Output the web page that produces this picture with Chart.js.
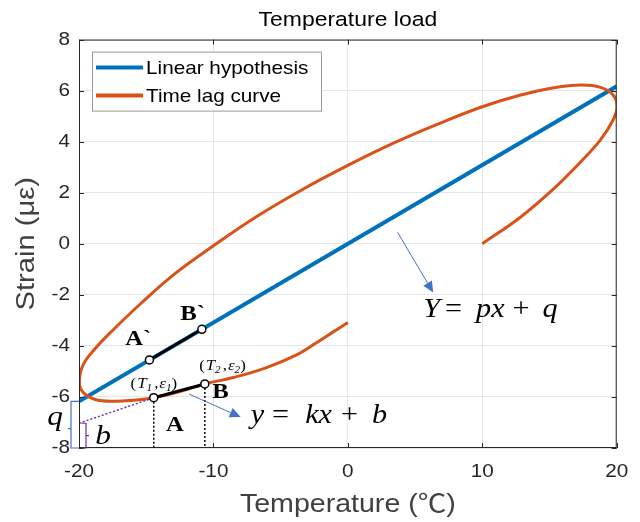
<!DOCTYPE html>
<html><head><meta charset="utf-8">
<script src="https://cdn.jsdelivr.net/npm/chart.js@4.4.1/dist/chart.umd.min.js"></script>
<style>html,body{margin:0;padding:0;background:#fff}#wrap{width:640px;height:522px}</style>
</head><body><div id="wrap"><canvas id="c" width="640" height="522"></canvas></div>
<script>
// ---- data ----
const xTicks = [-20, -10, 0, 10, 20];
const yTicks = [-8, -6, -4, -2, 0, 2, 4, 6, 8];
const linearX = [-20, 20];
const linearY = [-6.17, 6.17];
const lagX = [0, -1.2, -2.4, -3.7, -6.1, -8.6, -10.64, -12.5, -14.44, -16, -17.32, -18.79, -19.7, -19.97, -19.7, -18.79, -17.32, -15.32, -12.86, -10, -6.84, -3.47, 0, 3.47, 6.84, 10, 12.86, 15.32, 17.32, 18.79, 19.7, 20.03, 19.72, 18.79, 17.32, 15.32, 12.86, 10];
const lagY = [-3.08, -3.49, -3.9, -4.32, -4.86, -5.25, -5.49, -5.79, -6.03, -6.13, -6.17, -6.1, -5.82, -5.4, -4.75, -4.1, -3.3, -2.3, -1.17, -0.08, 1.05, 2.1, 3.07, 3.96, 4.72, 5.37, 5.83, 6.11, 6.22, 6.13, 5.85, 5.38, 4.84, 4.07, 3.21, 2.16, 1.05, 0];
const segLinX = [-14.76, -10.86];   // A` -> B` on the linear hypothesis
const segLinY = [-4.55, -3.35];
const segLagX = [-14.44, -10.64];   // A (T1,e1) -> B (T2,e2) on the time lag curve
const segLagY = [-6.03, -5.49];
const interceptB = -7.03;           // b : intercept of y = kx + b at x = -20
const interceptQ = -6.17;           // q : intercept of Y = px + q at x = -20

const pts = (xs, ys) => xs.map((x, i) => ({x, y: ys[i]}));
const FONT = '"Liberation Sans", Arial, "Noto Sans CJK SC", sans-serif';
const SERIF = '"Liberation Serif", "DejaVu Serif", serif';
const SX = 1.12; // horizontal text stretch seen in the reference

// text is drawn slightly wider, as in the reference picture
const stretchText = {
  id: 'stretchText',
  beforeInit(chart) {
    const ctx = chart.ctx;
    const orig = ctx.fillText.bind(ctx);
    ctx.fillText = function (text, x, y, maxWidth) {
      ctx.save(); ctx.translate(x, y); ctx.scale(SX, 1);
      if (maxWidth === undefined) orig(text, 0, 0); else orig(text, 0, 0, maxWidth / SX);
      ctx.restore();
    };
  }
};

function drawArrow(ctx, x1, y1, x2, y2, col) {
  const a = Math.atan2(y2 - y1, x2 - x1), L = 11, W = 5;
  const bx = x2 - L * Math.cos(a), by = y2 - L * Math.sin(a);
  ctx.strokeStyle = col; ctx.lineWidth = 1;
  ctx.beginPath(); ctx.moveTo(x1, y1); ctx.lineTo(bx, by); ctx.stroke();
  ctx.fillStyle = col; ctx.beginPath();
  ctx.moveTo(x2, y2);
  ctx.lineTo(bx + W * Math.sin(a), by - W * Math.cos(a));
  ctx.lineTo(bx - W * Math.sin(a), by + W * Math.cos(a));
  ctx.closePath(); ctx.fill();
}
function drawRuns(ctx, x, y, runs) {
  ctx.textAlign = 'left'; ctx.textBaseline = 'alphabetic';
  for (const r of runs) {
    ctx.font = r.f;
    ctx.fillText(r.t, x, y + (r.dy || 0));
    x += ctx.measureText(r.t).width * SX + (r.gap || 0);
  }
}
const annot = {
  id: 'annot',
  afterDatasetsDraw(chart) {
    const {ctx, chartArea: ca, scales: {x: sx, y: sy}} = chart;
    const X = v => sx.getPixelForValue(v), Y = v => sy.getPixelForValue(v);
    ctx.save();
    // frame + inward ticks
    ctx.strokeStyle = '#262626'; ctx.lineWidth = 1;
    ctx.strokeRect(ca.left + 0.5, ca.top + 0.5, ca.right - ca.left - 1, ca.bottom - ca.top - 1);
    ctx.beginPath();
    xTicks.forEach(v => { const p = Math.round(X(v)) + 0.5;
      ctx.moveTo(p, ca.bottom); ctx.lineTo(p, ca.bottom - 5);
      ctx.moveTo(p, ca.top); ctx.lineTo(p, ca.top + 5); });
    yTicks.forEach(v => { const p = Math.round(Y(v)) + 0.5;
      ctx.moveTo(ca.left, p); ctx.lineTo(ca.left + 5, p);
      ctx.moveTo(ca.right, p); ctx.lineTo(ca.right - 5, p); });
    ctx.stroke();

    // legend
    const lx = ca.left + 13, ly = ca.top + 12, lw = 229, lh = 59;
    ctx.fillStyle = '#fff'; ctx.fillRect(lx, ly, lw, lh);
    ctx.strokeStyle = '#999'; ctx.lineWidth = 1;
    ctx.strokeRect(lx + 0.5, ly + 0.5, lw, lh);
    chart.data.datasets.slice(0, 2).forEach((ds, i) => {
      const yy = ly + 16 + i * 28;
      ctx.strokeStyle = ds.borderColor; ctx.lineWidth = 4;
      ctx.beginPath(); ctx.moveTo(lx + 4, yy); ctx.lineTo(lx + 51, yy); ctx.stroke();
      ctx.fillStyle = '#000'; ctx.font = '18.5px ' + FONT;
      ctx.textAlign = 'left'; ctx.textBaseline = 'middle';
      ctx.fillText(ds.label, lx + 54, yy + 1);
    });

    // arrows
    const blue = '#4472C4';
    drawArrow(ctx, X(3.7), Y(0.45), X(6.35), Y(-1.91), blue);
    drawArrow(ctx, X(-11.8), Y(-5.89), X(-7.97), Y(-6.79), blue);

    // equations
    ctx.fillStyle = '#000';
    const it = 'italic 27px ' + SERIF, rm = '27px ' + SERIF;
    drawRuns(ctx, X(5.6), Y(-2.85), [{t:'Y', f:it, gap:5}, {t:'=', f:rm, gap:14}, {t:'px', f:it, gap:8}, {t:'+', f:rm, gap:13}, {t:'q', f:it}]);
    drawRuns(ctx, X(-7.23), Y(-7.02), [{t:'y', f:it, gap:8}, {t:'=', f:rm, gap:16}, {t:'kx', f:it, gap:9}, {t:'+', f:rm, gap:14}, {t:'b', f:it}]);

    // point labels
    const sm = 'italic 15px ' + SERIF, smr = '15px ' + SERIF, sub = 'italic 10px ' + SERIF;
    drawRuns(ctx, X(-16.16), Y(-5.64), [{t:'(', f:smr, gap:1}, {t:'T', f:sm}, {t:'1', f:sub, dy:3, gap:2}, {t:',', f:smr, gap:1}, {t:'ε', f:sm}, {t:'1', f:sub, dy:3}, {t:')', f:smr}]);
    drawRuns(ctx, X(-11.06), Y(-4.94), [{t:'(', f:smr, gap:1}, {t:'T', f:sm}, {t:'2', f:sub, dy:3, gap:2}, {t:',', f:smr, gap:1}, {t:'ε', f:sm}, {t:'2', f:sub, dy:3}, {t:')', f:smr}]);
    ctx.font = 'bold 22px ' + SERIF; ctx.textAlign = 'center'; ctx.textBaseline = 'middle';
    ctx.fillText('A', X(-12.87), Y(-7.12));
    ctx.fillText('B', X(-9.47), Y(-5.82));
    ctx.fillText('A`', X(-15.6), Y(-3.76));
    ctx.fillText('B`', X(-11.55), Y(-2.76));

    // brackets q and b
    const x0 = X(-20);
    ctx.lineWidth = 1.2;
    ctx.strokeStyle = blue;
    let t = Y(interceptQ), b = Y(-8), m = (t + b) / 2 + 4;
    ctx.beginPath();
    ctx.moveTo(x0, t); ctx.lineTo(x0 - 8, t); ctx.lineTo(x0 - 8, b); ctx.lineTo(x0, b);
    ctx.moveTo(x0 - 8, m); ctx.lineTo(x0 - 11, m);
    ctx.stroke();
    ctx.strokeStyle = '#7030A0';
    t = Y(interceptB); m = (t + b) / 2;
    ctx.beginPath();
    ctx.moveTo(x0 + 2, t); ctx.lineTo(x0 + 7, t); ctx.lineTo(x0 + 7, b); ctx.lineTo(x0 + 2, b);
    ctx.moveTo(x0 + 7, m); ctx.lineTo(x0 + 10, m);
    ctx.stroke();
    ctx.fillStyle = '#000';
    ctx.font = 'italic 28px ' + SERIF;
    ctx.textAlign = 'center'; ctx.textBaseline = 'alphabetic';
    ctx.fillText('q', x0 - 24, Y(-7.1));
    ctx.fillText('b', x0 + 24, Y(-7.85));
    ctx.restore();
  }
};

const chart = new Chart(document.getElementById('c'), {
  type: 'scatter',
  data: {
    datasets: [
      {label: 'Linear hypothesis', data: pts(linearX, linearY), showLine: true, borderColor: '#0072BD', borderWidth: 4, pointRadius: 0, order: 5},
      {label: 'Time lag curve', data: pts(lagX, lagY), showLine: true, borderColor: '#D95319', borderWidth: 3, pointRadius: 0, tension: 0.4, capBezierPoints: false, order: 4},
      {label: 'b', data: [{x: -20, y: interceptB}, {x: segLagX[0], y: segLagY[0]}], showLine: true, borderColor: '#7030A0', borderWidth: 1.5, borderDash: [2, 2], pointRadius: 0, order: 3},
      {label: 'T1', data: [{x: segLagX[0], y: segLagY[0]}, {x: segLagX[0], y: -8}], showLine: true, borderColor: '#000', borderWidth: 1.5, borderDash: [2, 2], pointRadius: 0, order: 3},
      {label: 'T2', data: [{x: segLagX[1], y: segLagY[1]}, {x: segLagX[1], y: -8}], showLine: true, borderColor: '#000', borderWidth: 1.5, borderDash: [2, 2], pointRadius: 0, order: 3},
      {label: 'A`B`', data: pts(segLinX, segLinY), showLine: true, borderColor: '#000', borderWidth: 3, pointRadius: 4, pointBackgroundColor: '#fff', pointBorderColor: '#000', pointBorderWidth: 1.5, order: 1},
      {label: 'AB', data: pts(segLagX, segLagY), showLine: true, borderColor: '#000', borderWidth: 3, pointRadius: 4, pointBackgroundColor: '#fff', pointBorderColor: '#000', pointBorderWidth: 1.5, order: 1}
    ]
  },
  options: {
    responsive: false, animation: false, devicePixelRatio: 1,
    layout: {padding: {left: 0, right: 21, top: 0, bottom: 0}},
    plugins: {
      legend: {display: false}, tooltip: {enabled: false},
      title: {display: true, fullSize: false, text: 'Temperature load', color: '#000', font: {family: FONT, size: 20.5, weight: 'normal'}, padding: {top: 8, bottom: 7}}
    },
    scales: {
      x: {
        type: 'linear', min: -20, max: 20,
        afterBuildTicks: s => { s.ticks = xTicks.map(v => ({value: v})); },
        afterFit: s => { s.height = 74; },
        grid: {color: '#e6e6e6', drawTicks: false},
        border: {display: false},
        ticks: {color: '#262626', font: {family: FONT, size: 18.5}, padding: 13, maxRotation: 0},
        title: {display: true, text: 'Temperature (℃)', color: '#404040', font: {family: FONT, size: 25.5, lineHeight: 1}, padding: {bottom: 4, top: 0}}
      },
      y: {
        type: 'linear', min: -8, max: 8,
        afterBuildTicks: s => { s.ticks = yTicks.map(v => ({value: v})); },
        afterFit: s => { s.width = 79; },
        grid: {color: '#e6e6e6', drawTicks: false},
        border: {display: false},
        ticks: {color: '#262626', font: {family: FONT, size: 18.5}, padding: 9},
        title: {display: true, text: 'Strain (με)', color: '#404040', font: {family: FONT, size: 26, lineHeight: 1}, padding: {top: 14, bottom: 0}}
      }
    }
  },
  plugins: [stretchText, annot]
});
</script></body></html>
